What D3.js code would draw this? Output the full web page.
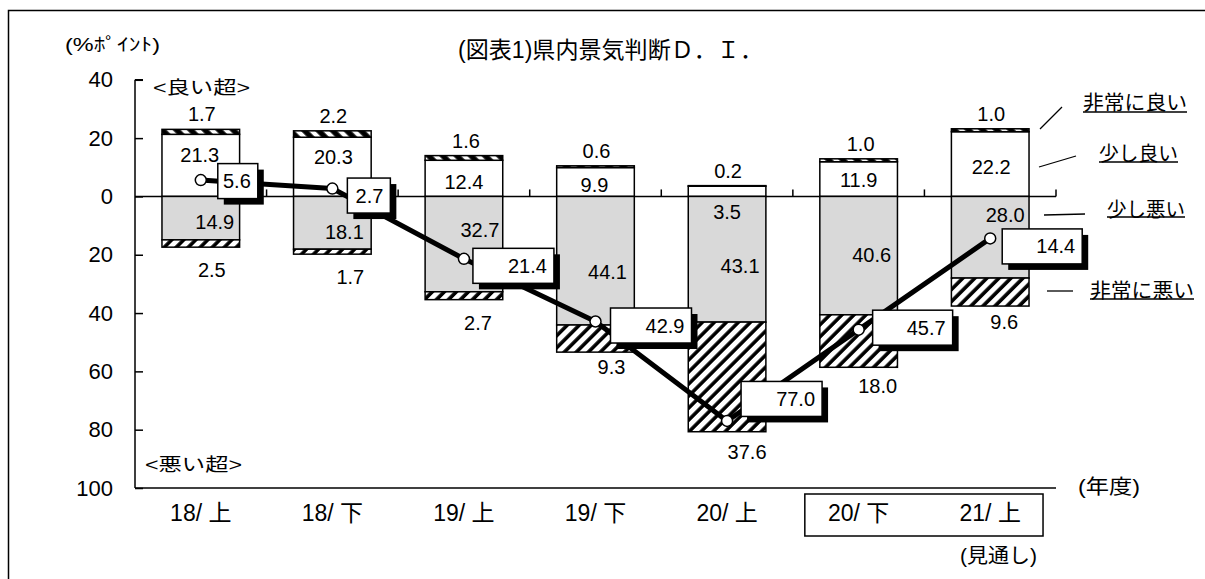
<!DOCTYPE html>
<html>
<head>
<meta charset="utf-8">
<script src="https://cdn.jsdelivr.net/npm/d3@7"></script>
<style>
  html, body { margin: 0; padding: 0; background: #fff; }
  svg { display: block; }
  text { font-family: "Liberation Sans", "Noto Sans CJK JP", sans-serif; fill: #000; }
</style>
</head>
<body>
<svg id="chart" width="1205" height="579"></svg>
<script>
// Half-year periods (fiscal year / half)
const categories = ["18/上", "18/下", "19/上", "19/下", "20/上", "20/下", "21/上"];

// Share of answers (% points)
const veryGood     = [1.7, 2.2, 1.6, 0.6, 0.2, 1.0, 1.0];     // 非常に良い
const slightlyGood = [21.3, 20.3, 12.4, 9.9, 3.5, 11.9, 22.2]; // 少し良い
const slightlyBad  = [14.9, 18.1, 32.7, 44.1, 43.1, 40.6, 28.0]; // 少し悪い
const veryBad      = [2.5, 1.7, 2.7, 9.3, 37.6, 18.0, 9.6];    // 非常に悪い

// Diffusion index (good minus bad)
const diValues = [5.6, 2.7, -21.4, -42.9, -77.0, -45.7, -14.4];

// Axis ticks
const yTicks = [40, 20, 0, -20, -40, -60, -80, -100];

// Label placement tweaks (px)
const vgLabelDx = [1, 1, 2, 1, 1, 2, 1];
const sgLabelDx = [-1, 1, 0, -1, 0, 0, 1];
const sgLabelDy = [-10, -10, 4, 3, 21, 1, 3];
const sbLabelDx = [14, 12, 16, 12, 13, 13, 15];
const sbLabelDy = [4, 9, -14, 11, 7, -1, -22];
const vbLabelDx = [11, 18, 14, 16, 20, 19, 14];
const vbLabelDy = [23, 23, 23, 15, 20, 19, 16];
const diBoxDx = [17, 15, 9, 15, 14, 14, 12];
const diBoxDy = [1, 7, 7, 4, -22, -2, 8];
const diBoxW  = [40, 43, 81, 81, 81, 80, 80];

const svg = d3.select("#chart");

// patterns
const defs = svg.append("defs");
const badPat = defs.append("pattern")
  .attr("id", "hatchBad").attr("patternUnits", "userSpaceOnUse")
  .attr("width", 8.5).attr("height", 8.5).attr("patternTransform", "rotate(45)");
badPat.append("rect").attr("width", 8.5).attr("height", 8.5).attr("fill", "#fff");
badPat.append("line").attr("x1", 2).attr("x2", 2).attr("y1", 0).attr("y2", 8.5)
  .attr("stroke", "#000").attr("stroke-width", 3.6);

const goodPat = defs.append("pattern")
  .attr("id", "hatchGood").attr("patternUnits", "userSpaceOnUse")
  .attr("width", 10).attr("height", 10).attr("patternTransform", "rotate(-45)");
goodPat.append("rect").attr("width", 10).attr("height", 10).attr("fill", "#fff");
goodPat.append("line").attr("x1", 3).attr("x2", 3).attr("y1", 0).attr("y2", 10)
  .attr("stroke", "#000").attr("stroke-width", 5.5);

// frame
svg.append("rect").attr("x", 8.5).attr("y", 10.5).attr("width", 1210).attr("height", 600)
  .attr("fill", "none").attr("stroke", "#000").attr("stroke-width", 1.5);

// scales
const x = d3.scaleBand().domain(categories).range([135, 1056])
  .paddingInner(0.41).paddingOuter(0.205);
const y = d3.scaleLinear().domain([40, -100]).range([79.8, 488]);
const step = x.step();
const bw = x.bandwidth();
const cx = c => x(c) + bw / 2;

// y axis
const yAxis = d3.axisRight(y).tickValues(yTicks).tickSize(8).tickFormat("");
const yg = svg.append("g").attr("transform", "translate(135,0)").call(yAxis);
yg.select(".domain").attr("stroke", "#000").attr("stroke-width", 1.5).attr("d", `M0,${y(40)}H8M0,${y(40)}V${y(-100)}`);
yg.selectAll(".tick line").attr("stroke", "#000").attr("stroke-width", 1.5);

svg.append("g").selectAll("text").data(yTicks).join("text")
  .attr("x", 113).attr("y", d => y(d)).attr("text-anchor", "end")
  .attr("dominant-baseline", "central").attr("font-size", 22)
  .text(d => Math.abs(d));

// bottom axis line
svg.append("line").attr("x1", 135).attr("x2", 1056).attr("y1", y(-100)).attr("y2", y(-100))
  .attr("stroke", "#000").attr("stroke-width", 1.5);

// zero line with boundary ticks
svg.append("line").attr("x1", 135).attr("x2", 1056).attr("y1", y(0)).attr("y2", y(0))
  .attr("stroke", "#000").attr("stroke-width", 1.5);
svg.append("g").selectAll("line").data(categories).join("line")
  .attr("x1", c => cx(c) + step / 2).attr("x2", c => cx(c) + step / 2)
  .attr("y1", y(0)).attr("y2", y(0) - 7)
  .attr("stroke", "#000").attr("stroke-width", 1.5);

// stacked bars
const rows = categories.map((c, i) => ({
  c, i,
  segs: [
    { y0: 0, y1: slightlyGood[i], fill: "#fff" },
    { y0: slightlyGood[i], y1: slightlyGood[i] + veryGood[i], fill: "url(#hatchGood)" },
    { y0: 0, y1: -slightlyBad[i], fill: "#d9d9d9" },
    { y0: -slightlyBad[i], y1: -slightlyBad[i] - veryBad[i], fill: "url(#hatchBad)" }
  ]
}));
const barG = svg.append("g");
rows.forEach(r => {
  barG.selectAll(null).data(r.segs).join("rect")
    .attr("x", x(r.c)).attr("width", bw)
    .attr("y", s => y(Math.max(s.y0, s.y1)))
    .attr("height", s => Math.abs(y(s.y0) - y(s.y1)))
    .attr("fill", s => s.fill)
    .attr("stroke", "#000").attr("stroke-width", 1.5);
});

// segment value labels
const lab = svg.append("g").attr("font-size", 20).attr("text-anchor", "middle");
categories.forEach((c, i) => {
  const top = slightlyGood[i] + veryGood[i];
  const bottom = -slightlyBad[i] - veryBad[i];
  lab.append("text").attr("x", cx(c) + vgLabelDx[i]).attr("y", y(top) - 15)
    .attr("dominant-baseline", "central").text(veryGood[i].toFixed(1));
  lab.append("text").attr("x", cx(c) + sgLabelDx[i]).attr("y", y(slightlyGood[i] / 2) + sgLabelDy[i])
    .attr("dominant-baseline", "central").text(slightlyGood[i].toFixed(1));
  lab.append("text").attr("x", cx(c) + sbLabelDx[i]).attr("y", y(-slightlyBad[i] / 2) + sbLabelDy[i])
    .attr("dominant-baseline", "central").text(slightlyBad[i].toFixed(1));
  lab.append("text").attr("x", cx(c) + vbLabelDx[i]).attr("y", y(bottom) + vbLabelDy[i])
    .attr("dominant-baseline", "central").text(veryBad[i].toFixed(1));
});

// D.I. line
const pts = categories.map((c, i) => [cx(c), y(diValues[i])]);
svg.append("path").attr("d", d3.line()(pts))
  .attr("fill", "none").attr("stroke", "#000").attr("stroke-width", 5).attr("stroke-linejoin", "round");
svg.append("g").selectAll("circle").data(pts).join("circle")
  .attr("cx", d => d[0]).attr("cy", d => d[1]).attr("r", 5.5)
  .attr("fill", "#fff").attr("stroke", "#000").attr("stroke-width", 1.5);

// D.I. value boxes with drop shadow
const boxH = 35;
const boxG = svg.append("g");
categories.forEach((c, i) => {
  const bx = pts[i][0] + diBoxDx[i];
  const by = pts[i][1] + diBoxDy[i] - boxH / 2;
  boxG.append("rect").attr("x", bx + 6).attr("y", by + 6).attr("width", diBoxW[i]).attr("height", boxH)
    .attr("fill", "#000");
  boxG.append("rect").attr("x", bx).attr("y", by).attr("width", diBoxW[i]).attr("height", boxH)
    .attr("fill", "#fff").attr("stroke", "#000").attr("stroke-width", 1.5);
  boxG.append("text").attr("x", bx + diBoxW[i] - 7).attr("y", by + boxH / 2)
    .attr("text-anchor", "end").attr("dominant-baseline", "central").attr("font-size", 20)
    .text(Math.abs(diValues[i]).toFixed(1));
});

// category labels
svg.append("g").selectAll("text").data(categories).join("text")
  .attr("x", c => cx(c)).attr("y", 513).attr("text-anchor", "middle")
  .attr("dominant-baseline", "central").attr("font-size", 23)
  .text(c => c.replace("/", "/ "));

// outlook box around the last two periods
svg.append("rect")
  .attr("x", x("20/下") - 15).attr("y", 494)
  .attr("width", (x("21/上") + bw + 14) - (x("20/下") - 15)).attr("height", 42)
  .attr("fill", "none").attr("stroke", "#000").attr("stroke-width", 1.5);

// titles and notes
function note(txt, xPos, yPos, size, len, anchor) {
  const t = svg.append("text").attr("x", xPos).attr("y", yPos)
    .attr("dominant-baseline", "central").attr("font-size", size)
    .attr("text-anchor", anchor || "start").text(txt);
  if (len) t.attr("textLength", len).attr("lengthAdjust", "spacingAndGlyphs");
  return t;
}
note("(図表1)県内景気判断Ｄ．Ｉ．", 458, 50, 23, 305);
note("(%ﾎﾟｲﾝﾄ)", 65, 45, 18, 95);
note("<良い超>", 153, 88, 18, 97);
note("<悪い超>", 145, 465, 18, 97);
note("(年度)", 1078, 487, 20, 62);
note("(見通し)", 960, 556, 20, 77);

// legend labels with leaders
const legend = [
  { t: "非常に良い", x: 1083, y: 103, w: 104, ux: 112, l: [1040, 129, 1062, 107] },
  { t: "少し良い",   x: 1099, y: 154, w: 79,  ux: 162, l: [1039, 167, 1076, 156] },
  { t: "少し悪い",   x: 1107, y: 210, w: 78,  ux: 217, l: [1044, 215, 1085, 214] },
  { t: "非常に悪い", x: 1090, y: 291, w: 104, ux: 299, l: [1047, 291, 1073, 291] }
];
legend.forEach(d => {
  note(d.t, d.x, d.y, 20, d.w);
  svg.append("line").attr("x1", d.x).attr("x2", d.x + d.w).attr("y1", d.ux).attr("y2", d.ux)
    .attr("stroke", "#000").attr("stroke-width", 1.3);
  svg.append("line").attr("x1", d.l[0]).attr("y1", d.l[1]).attr("x2", d.l[2]).attr("y2", d.l[3])
    .attr("stroke", "#000").attr("stroke-width", 1.3);
});
</script>
</body>
</html>
